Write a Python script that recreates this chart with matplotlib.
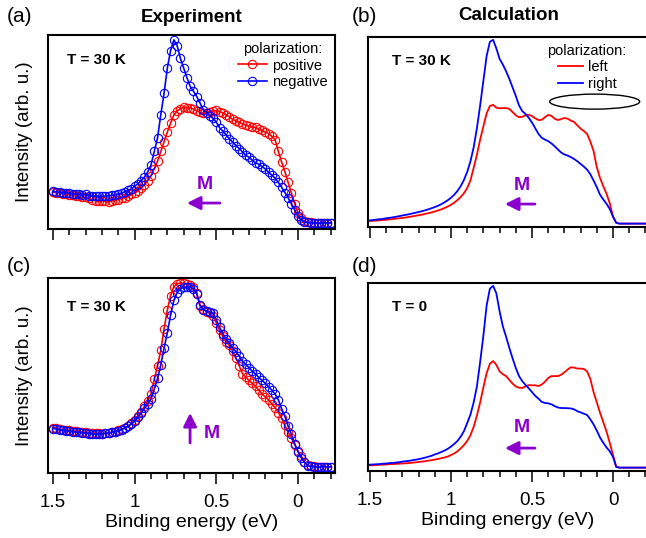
import numpy as np
import matplotlib
matplotlib.use('Agg')
import matplotlib.pyplot as plt
from matplotlib.patches import Ellipse
from matplotlib.ticker import MultipleLocator

plt.rcParams['font.family'] = ['Liberation Sans', 'DejaVu Sans']

# binding energy grid (eV), 1.50 ... -0.20
energy = np.round(np.arange(1.50, -0.201, -0.02), 2)

# (a) experiment, T = 30 K, M in plane
exp_a_pos = [0.189, 0.188, 0.185, 0.182, 0.180, 0.177, 0.174, 0.172, 0.170, 0.166,
             0.163, 0.158, 0.152, 0.146, 0.142, 0.145, 0.143, 0.141, 0.145, 0.148,
             0.152, 0.158, 0.162, 0.168, 0.178, 0.185, 0.196, 0.210, 0.228, 0.250,
             0.275, 0.310, 0.350, 0.400, 0.450, 0.500, 0.545, 0.588, 0.608, 0.620,
             0.628, 0.626, 0.624, 0.618, 0.610, 0.602, 0.597, 0.600, 0.605, 0.608,
             0.611, 0.605, 0.598, 0.588, 0.578, 0.565, 0.558, 0.550, 0.542, 0.536,
             0.530, 0.524, 0.525, 0.515, 0.508, 0.500, 0.492, 0.478, 0.460, 0.400,
             0.345, 0.295, 0.240, 0.185, 0.130, 0.085, 0.055, 0.040, 0.036, 0.034,
             0.033, 0.033, 0.032, 0.032, 0.032, 0.032]
exp_a_neg = [0.194, 0.192, 0.190, 0.188, 0.187, 0.185, 0.182, 0.180, 0.178, 0.176,
             0.178, 0.172, 0.170, 0.171, 0.168, 0.170, 0.169, 0.172, 0.173, 0.176,
             0.180, 0.186, 0.192, 0.199, 0.208, 0.220, 0.234, 0.250, 0.268, 0.295,
             0.330, 0.400, 0.470, 0.590, 0.700, 0.830, 0.920, 0.975, 0.945, 0.880,
             0.830, 0.780, 0.735, 0.710, 0.683, 0.650, 0.614, 0.600, 0.585, 0.570,
             0.550, 0.522, 0.505, 0.485, 0.465, 0.448, 0.430, 0.415, 0.398, 0.380,
             0.370, 0.355, 0.340, 0.335, 0.322, 0.310, 0.292, 0.278, 0.262, 0.240,
             0.215, 0.188, 0.160, 0.130, 0.098, 0.065, 0.045, 0.035, 0.034, 0.032,
             0.032, 0.031, 0.031, 0.031, 0.031, 0.031]

# (c) experiment, T = 30 K, M out of plane
exp_c_pos = [0.233, 0.232, 0.225, 0.222, 0.220, 0.218, 0.216, 0.214, 0.212, 0.210,
             0.208, 0.206, 0.205, 0.206, 0.203, 0.202, 0.204, 0.206, 0.208, 0.212,
             0.218, 0.224, 0.232, 0.240, 0.255, 0.270, 0.290, 0.315, 0.343, 0.370,
             0.405, 0.480, 0.550, 0.630, 0.740, 0.835, 0.910, 0.955, 0.970, 0.975,
             0.972, 0.970, 0.965, 0.955, 0.923, 0.858, 0.840, 0.828, 0.818, 0.803,
             0.770, 0.732, 0.700, 0.672, 0.655, 0.625, 0.590, 0.550, 0.510, 0.490,
             0.475, 0.460, 0.445, 0.425, 0.405, 0.390, 0.375, 0.355, 0.335, 0.310,
             0.280, 0.245, 0.210, 0.180, 0.145, 0.112, 0.088, 0.055, 0.040, 0.036,
             0.034, 0.032, 0.032, 0.032, 0.032, 0.032]
exp_c_neg = [0.228, 0.226, 0.222, 0.218, 0.216, 0.214, 0.212, 0.210, 0.208, 0.206,
             0.204, 0.202, 0.200, 0.199, 0.200, 0.201, 0.203, 0.205, 0.208, 0.212,
             0.217, 0.223, 0.230, 0.240, 0.252, 0.267, 0.285, 0.308, 0.332, 0.355,
             0.380, 0.430, 0.485, 0.555, 0.640, 0.720, 0.810, 0.885, 0.925, 0.945,
             0.952, 0.955, 0.953, 0.945, 0.920, 0.860, 0.838, 0.830, 0.826, 0.818,
             0.785, 0.748, 0.715, 0.685, 0.668, 0.640, 0.622, 0.600, 0.573, 0.558,
             0.540, 0.522, 0.508, 0.490, 0.475, 0.460, 0.443, 0.425, 0.405, 0.375,
             0.330, 0.290, 0.240, 0.198, 0.150, 0.110, 0.078, 0.055, 0.038, 0.034,
             0.033, 0.032, 0.032, 0.032, 0.032, 0.032]

# (b) calculation, T = 30 K
calc_b_left = [0.032, 0.033, 0.034, 0.035, 0.037, 0.038, 0.040, 0.042, 0.044, 0.046,
               0.048, 0.050, 0.053, 0.056, 0.059, 0.062, 0.065, 0.069, 0.073, 0.077,
               0.082, 0.087, 0.093, 0.100, 0.108, 0.117, 0.128, 0.142, 0.158, 0.178,
               0.205, 0.245, 0.312, 0.380, 0.460, 0.530, 0.598, 0.637, 0.643, 0.628,
               0.625, 0.626, 0.626, 0.622, 0.605, 0.588, 0.578, 0.580, 0.588, 0.591,
               0.584, 0.572, 0.563, 0.564, 0.578, 0.590, 0.585, 0.570, 0.563, 0.568,
               0.574, 0.570, 0.560, 0.553, 0.535, 0.518, 0.505, 0.490, 0.450, 0.400,
               0.315, 0.258, 0.215, 0.175, 0.125, 0.055, 0.022, 0.018, 0.018, 0.018,
               0.018, 0.018, 0.018, 0.018, 0.018, 0.018]
calc_b_right = [0.035, 0.037, 0.039, 0.041, 0.043, 0.046, 0.048, 0.051, 0.054, 0.057,
                0.061, 0.064, 0.067, 0.071, 0.075, 0.079, 0.083, 0.088, 0.093, 0.099,
                0.105, 0.112, 0.120, 0.130, 0.141, 0.154, 0.170, 0.190, 0.215, 0.248,
                0.290, 0.345, 0.420, 0.520, 0.640, 0.770, 0.900, 0.975, 0.985, 0.940,
                0.885, 0.855, 0.820, 0.780, 0.735, 0.690, 0.640, 0.610, 0.595, 0.575,
                0.550, 0.520, 0.490, 0.470, 0.460, 0.452, 0.440, 0.425, 0.408, 0.392,
                0.382, 0.376, 0.368, 0.358, 0.346, 0.332, 0.318, 0.302, 0.278, 0.245,
                0.210, 0.170, 0.145, 0.122, 0.095, 0.055, 0.022, 0.018, 0.018, 0.018,
                0.018, 0.018, 0.018, 0.018, 0.018, 0.018]

# (d) calculation, T = 0
calc_d_left = [0.030, 0.031, 0.032, 0.033, 0.034, 0.035, 0.036, 0.037, 0.038, 0.039,
               0.040, 0.041, 0.042, 0.044, 0.046, 0.048, 0.050, 0.052, 0.055, 0.058,
               0.061, 0.064, 0.068, 0.072, 0.077, 0.085, 0.093, 0.105, 0.120, 0.138,
               0.160, 0.190, 0.235, 0.295, 0.365, 0.445, 0.520, 0.570, 0.585, 0.565,
               0.530, 0.515, 0.505, 0.485, 0.465, 0.450, 0.443, 0.442, 0.450, 0.457,
               0.456, 0.456, 0.452, 0.460, 0.475, 0.495, 0.505, 0.505, 0.505, 0.512,
               0.525, 0.540, 0.552, 0.550, 0.545, 0.545, 0.543, 0.530, 0.490, 0.420,
               0.365, 0.310, 0.260, 0.210, 0.150, 0.085, 0.022, 0.018, 0.018, 0.018,
               0.018, 0.018, 0.018, 0.018, 0.018, 0.018]
calc_d_right = [0.034, 0.035, 0.036, 0.037, 0.039, 0.040, 0.042, 0.043, 0.045, 0.047,
                0.050, 0.052, 0.054, 0.057, 0.060, 0.063, 0.067, 0.071, 0.076, 0.081,
                0.088, 0.094, 0.101, 0.109, 0.118, 0.130, 0.144, 0.160, 0.183, 0.212,
                0.255, 0.300, 0.365, 0.450, 0.580, 0.720, 0.880, 0.970, 0.985, 0.945,
                0.850, 0.770, 0.715, 0.655, 0.600, 0.548, 0.505, 0.478, 0.458, 0.440,
                0.420, 0.400, 0.385, 0.368, 0.362, 0.360, 0.355, 0.345, 0.338, 0.335,
                0.335, 0.334, 0.333, 0.328, 0.318, 0.312, 0.305, 0.298, 0.275, 0.248,
                0.215, 0.178, 0.150, 0.125, 0.105, 0.075, 0.022, 0.018, 0.018, 0.018,
                0.018, 0.018, 0.018, 0.018, 0.018, 0.018]

red = '#ff0000'
blue = '#0000ff'
purple = '#8a00cc'

fig = plt.figure(figsize=(6.46, 5.38), dpi=100)
ax_a = fig.add_axes([0.0743, 0.5743, 0.4443, 0.3606])
ax_b = fig.add_axes([0.5697, 0.578, 0.4334, 0.3532])
ax_c = fig.add_axes([0.0743, 0.1208, 0.4443, 0.3625])
ax_d = fig.add_axes([0.5697, 0.1245, 0.4334, 0.3494])


def style(ax, xlim, labels):
    ax.set_xlim(xlim)
    ax.set_ylim(0, 1)
    ax.set_yticks([])
    ax.set_xticks([1.5, 1, 0.5, 0])
    ax.xaxis.set_minor_locator(MultipleLocator(0.1))
    ax.tick_params(axis='x', which='major', direction='out', length=8,
                   width=1.1, labelsize=13.5, pad=7)
    ax.tick_params(axis='x', which='minor', direction='out', length=4.3, width=1.1)
    if labels:
        ax.set_xticklabels(['1.5', '1', '0.5', '0'])
        ax.set_xlabel('Binding energy (eV)', fontsize=14, labelpad=2)
    else:
        ax.set_xticklabels([])
    for s in ax.spines.values():
        s.set_linewidth(1.5)


def exp_plot(ax, pos, neg):
    kw = dict(lw=1.2, marker='o', ms=6, mfc='none', mew=0.8)
    ax.plot(energy, pos, color=red, label='positive', **kw)
    ax.plot(energy, neg, color=blue, label='negative', **kw)


def m_arrow(ax, tail, head, text_xy):
    ax.annotate('', xy=head, xytext=tail, xycoords='axes fraction',
                arrowprops=dict(arrowstyle='-|>,head_length=0.8,head_width=0.4',
                                color=purple, lw=2, shrinkA=0, shrinkB=0))
    ax.text(text_xy[0], text_xy[1], 'M', transform=ax.transAxes, color=purple,
            fontsize=14, fontweight='bold', ha='center', va='center')


# experiment
exp_plot(ax_a, exp_a_pos, exp_a_neg)
exp_plot(ax_c, exp_c_pos, exp_c_neg)
style(ax_a, (1.531, -0.227), False)
style(ax_c, (1.531, -0.227), True)
for ax in (ax_a, ax_c):
    ax.set_ylabel('Intensity (arb. u.)', fontsize=13.5, labelpad=11)

ax_a.legend(title='polarization:', frameon=False, loc='upper right',
            bbox_to_anchor=(1.0, 1.0), fontsize=10.5, title_fontsize=10.5,
            handlelength=2.0, handletextpad=0.35, labelspacing=0.15,
            borderaxespad=0.2, numpoints=1, borderpad=0.3)

# calculation
ax_b.plot(energy, calc_b_left, color=red, lw=1.3, label='left')
ax_b.plot(energy, calc_b_right, color=blue, lw=1.3, label='right')
ax_d.plot(energy, calc_d_left, color=red, lw=1.3)
ax_d.plot(energy, calc_d_right, color=blue, lw=1.3)
style(ax_b, (1.512, -0.216), False)
style(ax_d, (1.512, -0.216), True)
ax_b.spines['right'].set_visible(False)
ax_d.spines['right'].set_visible(False)

ax_b.legend(title='polarization:', frameon=False, loc='upper right',
            bbox_to_anchor=(0.95, 1.0), fontsize=10.5, title_fontsize=10.5,
            handlelength=1.7, handletextpad=0.35, labelspacing=0.15,
            borderaxespad=0.2, borderpad=0.3)
ax_b.add_patch(Ellipse((0.113, 0.66), 0.555, 0.079, fill=False,
                       edgecolor='black', lw=1))

# temperature labels
for ax, txt, x, y in [(ax_a, 'T = 30 K', 0.066, 0.871), (ax_b, 'T = 30 K', 0.086, 0.874),
                      (ax_c, 'T = 30 K', 0.066, 0.851), (ax_d, 'T = 0', 0.086, 0.872)]:
    ax.text(x, y, txt, transform=ax.transAxes, fontsize=11, fontweight='bold',
            ha='left', va='center')

# magnetization arrows
m_arrow(ax_a, (0.599, 0.134), (0.484, 0.134), (0.547, 0.227))
m_arrow(ax_b, (0.596, 0.121), (0.489, 0.121), (0.55, 0.221))
m_arrow(ax_c, (0.495, 0.154), (0.495, 0.308), (0.571, 0.205))
m_arrow(ax_d, (0.596, 0.122), (0.489, 0.122), (0.55, 0.234))

# titles and panel letters
fig.text(192 / 646, 1 - 17 / 538, 'Experiment', fontsize=13.5, fontweight='bold',
         ha='center', va='center')
fig.text(509 / 646, 1 - 16 / 538, 'Calculation', fontsize=13.5, fontweight='bold',
         ha='center', va='center')
for txt, x, y in [('(a)', 7, 17), ('(b)', 352, 16), ('(c)', 7, 267), ('(d)', 352, 267)]:
    fig.text(x / 646, 1 - y / 538, txt, fontsize=15, ha='left', va='center')

fig.savefig('out.png', dpi=100)
